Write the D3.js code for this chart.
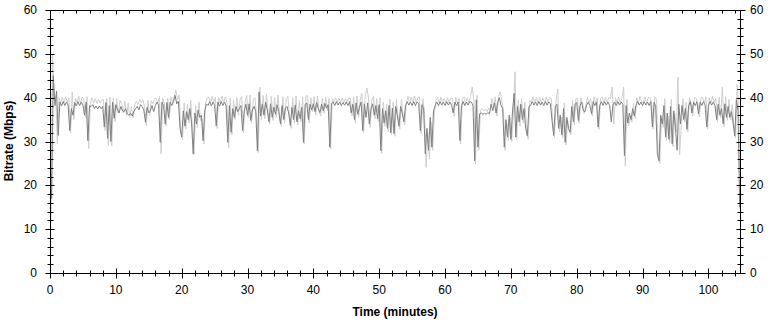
<!DOCTYPE html>
<html>
<head>
<meta charset="utf-8">
<script src="https://cdn.jsdelivr.net/npm/d3@7"></script>
<style>
  body { margin: 0; background: #fff; }
  text { font-family: Arial, "Liberation Sans", sans-serif; }
</style>
</head>
<body>
<div id="container"></div>
<script>
// sampled every 0.25 min, starting at 0 (dark trace)
const bitrateAvg = [
  29, 17, 45, 38.2,  41.5, 31.4, 39.0, 38.1,  39.1, 38.2, 39.0, 38.3,  32.5, 37.5, 36.0, 38.9,
  38.1, 39.1, 38.2, 39.0,  38.3, 36.0, 39.0, 30.2,  38.1, 38.0, 38.4, 37.5,  38.1, 37.4, 38.1, 37.5,
  38.0, 33.3, 38.9, 30.7,  38.2, 30.0, 39.0, 35.3,
  38.4, 37.2, 36.5, 38.0,  37.0, 36.8, 37.5, 36.3,  36.0, 36.4, 35.8, 36.9,  37.5, 38.0, 37.2, 38.4,
  38.0, 37.2, 34.4, 37.8,  36.5, 37.0, 38.2, 36.8,  38.2, 39.0, 38.3, 29.8,  39.0, 38.2, 34.0, 38.9,
  35.5, 39.0, 38.2, 39.1,  40.5, 38.6, 39.2, 33.0,
  31.0, 37.0, 33.5, 36.8,  35.0, 37.5, 34.2, 27.2,  36.5, 34.0, 37.2, 35.5,  36.0, 30.2, 37.0, 38.6,
  38.2, 39.1, 38.1, 39.0,  38.3, 33.6, 39.0, 38.1,  39.1, 38.2, 39.0, 38.1,  29.8, 38.2, 32.1, 37.5,
  35.5, 38.0, 36.8, 37.5,  38.2, 32.5, 37.0, 38.5,
  36.0, 38.6, 34.8, 37.2,  38.0, 36.8, 27.9, 41.3,  35.8, 38.5, 36.0, 39.0,  37.2, 34.5, 38.6, 35.5,
  37.8, 36.2, 38.4, 36.8,  34.0, 38.2, 35.0, 37.6,  38.0, 36.5, 33.7, 37.8,  35.0, 38.3, 34.5, 37.0,
  35.2, 37.8, 29.8, 38.4,  38.8, 35.0, 38.5, 37.2,
  38.6, 36.8, 38.9, 37.5,  36.6, 38.5, 37.0, 38.7,  37.6, 38.4, 28.7, 38.6,  39.0, 38.2, 39.1, 38.3,
  39.0, 38.2, 38.9, 38.3,  39.0, 38.2, 39.1, 36.5,  38.5, 35.0, 38.8, 36.2,  37.8, 39.0, 32.5, 38.6,
  35.5, 38.8, 34.0, 37.4,  38.6, 36.0, 38.2, 35.2,
  38.4, 27.9, 37.5, 34.2,  37.0, 33.0, 38.2, 32.0,  37.6, 31.8, 38.0, 36.0,  33.5, 38.0, 36.5, 34.5,
  38.2, 39.1, 38.3, 39.0,  38.2, 39.1, 38.2, 39.0,  38.7, 32.5, 38.4, 37.5,  27.2, 33.0, 28.0, 35.5,
  28.7, 37.0, 38.2, 39.0,  38.2, 39.1, 38.3, 39.0,
  38.2, 39.1, 38.3, 39.0,  38.2, 36.5, 39.0, 38.2,  39.0, 30.2, 38.2, 39.1,  38.2, 39.0, 38.3, 39.1,
  39.0, 38.2, 25.6, 39.5,  28.7, 36.3, 36.5, 36.2,  36.4, 36.2, 36.6, 36.3,  38.5, 37.0, 38.8, 36.5,
  38.9, 40.0, 38.2, 37.5,  28.7, 35.0, 31.0, 36.0,
  30.5, 37.0, 41.0, 31.0,  38.0, 34.5, 38.5, 35.0,  37.5, 33.0, 31.3, 38.0,  38.2, 39.1, 38.3, 39.0,
  38.2, 39.1, 38.3, 39.0,  38.2, 39.1, 38.3, 39.0,  38.6, 34.8, 31.4, 38.0,  38.5, 33.0, 36.0, 31.5,
  37.5, 29.8, 35.5, 33.0,  32.1, 38.0, 34.5, 38.5,
  38.9, 34.8, 38.2, 39.0,  37.0, 36.8, 38.3, 39.0,  38.2, 36.3, 39.1, 38.2,  39.0, 33.3, 38.2, 39.1,
  38.2, 39.1, 38.3, 39.0,  38.2, 34.5, 38.3, 39.0,  38.2, 39.1, 38.3, 39.0,  38.5, 26.8, 38.2, 34.2,
  36.5, 35.0, 37.5, 35.8,  38.2, 39.1, 38.3, 39.0,
  38.2, 39.1, 38.3, 39.0,  38.2, 39.1, 33.3, 39.0,  38.0, 27.2, 25.6, 36.0,  34.0, 38.2, 31.0, 36.5,
  30.5, 38.0, 29.5, 37.0,  33.0, 28.0, 38.5, 34.0,  38.2, 35.0, 37.5, 32.8,  38.2, 39.1, 36.5, 39.0,
  38.2, 39.1, 36.3, 39.0,  38.2, 39.1, 38.3, 33.3,
  38.2, 39.1, 38.3, 39.0,  38.2, 35.0, 38.5, 36.0,  37.5, 34.0, 38.6, 35.5,  38.0, 35.5, 36.8, 34.2,
  31.3, 39.5, 37.0, 15.0
]

// sampled every 0.25 min, starting at 0.125 (light trace, finer peaks)
const bitratePeak = [
  10, 49.7, 39.8, 40.2,  29.5, 40.0, 38.8, 40.1,  38.8, 40.2, 38.9, 40.0,  32.0, 41.3, 35.0, 39.9,
  38.9, 40.3, 38.8, 40.1,  39.8, 35.5, 40.2, 28.4,  38.7, 40.0, 38.8, 39.8,  38.7, 39.6, 38.8, 39.5,
  39.5, 32.5, 39.8, 29.0,  40.1, 29.0, 39.9, 34.5,
  39.8, 36.5, 39.4, 38.6,  36.5, 39.2, 35.8, 38.8,  35.5, 38.0, 35.4, 38.5,  39.2, 38.4, 39.6, 38.8,
  39.5, 37.8, 33.5, 39.4,  36.0, 39.3, 38.6, 39.8,  39.9, 38.8, 40.3, 27.2,  39.8, 38.8, 33.5, 39.9,
  35.0, 40.2, 38.8, 40.3,  41.7, 39.5, 40.6, 32.0,
  30.5, 38.8, 32.8, 38.5,  34.2, 39.4, 33.5, 27.0,  38.2, 33.2, 39.0, 34.8,  35.2, 29.5, 38.8, 39.9,
  40.2, 38.8, 40.3, 38.9,  40.1, 33.0, 40.0, 38.8,  40.4, 38.8, 40.2, 38.9,  28.5, 39.8, 31.5, 39.4,
  35.0, 40.0, 36.0, 39.6,  40.3, 32.0, 39.0, 40.5,
  35.5, 40.6, 34.2, 39.5,  40.0, 35.5, 27.5, 42.4,  35.0, 40.5, 35.2, 40.8,  36.5, 34.0, 40.4, 34.8,
  40.0, 35.5, 40.6, 36.0,  33.5, 40.2, 34.2, 39.8,  40.3, 35.8, 33.0, 40.0,  34.2, 40.4, 33.8, 39.3,
  34.5, 40.1, 29.5, 40.3,  40.5, 34.2, 40.0, 36.8,
  40.2, 36.0, 40.4, 36.8,  35.8, 40.0, 36.4, 40.1,  37.0, 39.8, 28.3, 39.8,  38.9, 40.0, 38.8, 39.9,
  38.9, 40.0, 38.8, 39.8,  38.9, 39.9, 39.8, 35.8,  40.2, 34.2, 40.4, 35.5,  39.5, 41.0, 32.0, 40.2,
  42.2, 40.0, 33.2, 39.5,  40.3, 35.2, 39.8, 34.5,
  40.0, 27.3, 39.0, 33.5,  38.5, 32.2, 39.6, 31.5,  39.0, 31.2, 39.5, 35.2,  32.8, 39.6, 35.8, 33.8,
  38.9, 40.3, 38.8, 40.1,  38.9, 40.4, 38.8, 40.0,  40.2, 31.8, 39.8, 36.8,  24.1, 32.0, 26.0, 34.5,
  28.0, 36.2, 39.6, 40.0,  38.8, 40.1, 38.9, 39.9,
  38.8, 40.0, 38.9, 39.9,  39.8, 35.8, 40.1, 38.8,  39.9, 29.5, 39.7, 40.2,  38.8, 40.0, 38.9, 40.3,
  42.4, 39.6, 25.0, 40.5,  28.0, 37.2, 37.5, 37.0,  37.3, 36.8, 37.6, 37.2,  39.9, 38.0, 40.2, 35.8,
  40.3, 41.3, 39.5, 36.8,  28.0, 34.2, 30.2, 35.5,
  30.0, 36.5, 45.9, 30.5,  39.5, 33.5, 39.8, 34.2,  39.0, 32.2, 30.5, 39.4,  38.9, 40.2, 38.8, 40.0,
  38.8, 40.1, 38.9, 39.9,  38.9, 40.2, 38.8, 40.0,  39.9, 34.0, 30.8, 39.5,  42.0, 32.2, 35.5, 30.8,
  38.8, 29.2, 34.8, 32.5,  31.5, 39.4, 33.8, 39.8,
  39.9, 34.2, 40.0, 38.8,  36.4, 38.0, 40.0, 38.8,  39.8, 35.8, 40.2, 38.8,  40.0, 32.8, 39.8, 40.2,
  38.8, 40.1, 38.9, 40.0,  39.8, 42.4, 34.0, 40.0,  38.8, 40.2, 38.9, 39.9,  42.4, 24.5, 39.6, 33.6,
  35.8, 34.4, 38.8, 35.2,  40.0, 38.8, 40.3, 38.9,
  38.9, 40.2, 38.8, 40.0,  40.1, 38.8, 32.8, 40.2,  39.5, 26.6, 25.0, 35.4,  33.2, 39.8, 30.2, 35.8,
  29.8, 39.6, 28.8, 36.4,  32.2, 44.7, 27.0, 33.4,  39.8, 34.4, 39.0, 32.2,  40.0, 38.8, 35.8, 40.1,
  39.9, 38.8, 35.6, 40.0,  40.1, 38.8, 40.2, 32.8,
  40.0, 38.8, 40.3, 38.9,  39.8, 34.4, 40.1, 35.4,  42.4, 33.4, 40.2, 34.8,  39.6, 34.9, 38.4, 33.6,
  30.8, 43.0, 36.4, 12.0
]

const sampleStep = 0.25
const timeEnd = 104.8
const yTicks = [0, 10, 20, 30, 40, 50, 60]
const xTicks = [0, 10, 20, 30, 40, 50, 60, 70, 80, 90, 100]

const w = 772
const h = 322
const padLeft = 50, padRight = 740, padTop = 10, padBottom = 273

const svg = d3.select("#container")
  .append("svg")
  .attr("width", w)
  .attr("height", h)

const x = d3.scaleLinear().domain([0, timeEnd]).range([padLeft, padRight])
const y = d3.scaleLinear().domain([0, 60]).range([padBottom, padTop])

svg.append("clipPath")
  .attr("id", "plot-clip")
  .append("rect")
  .attr("x", padLeft)
  .attr("y", padTop)
  .attr("width", padRight - padLeft)
  .attr("height", padBottom - padTop)

const plot = svg.append("g").attr("clip-path", "url(#plot-clip)")

const peakLine = d3.line()
  .x((d, i) => x(i * sampleStep + sampleStep / 2))
  .y((d) => y(d))

const avgLine = d3.line()
  .x((d, i) => x(i * sampleStep))
  .y((d) => y(d))

plot.append("path")
  .attr("d", peakLine(bitratePeak))
  .attr("fill", "none")
  .attr("stroke", "#cfcfcf")
  .attr("stroke-width", 1)

plot.append("path")
  .attr("d", avgLine(bitrateAvg))
  .attr("fill", "none")
  .attr("stroke", "#808080")
  .attr("stroke-width", 1)

// frame
svg.append("rect")
  .attr("x", padLeft + 0.5)
  .attr("y", padTop + 0.5)
  .attr("width", padRight - padLeft)
  .attr("height", padBottom - padTop)
  .attr("fill", "none")
  .attr("stroke", "#000")

const xMinor = d3.range(0, timeEnd, 2)
const yMinor = d3.range(0, 61, 2)

const tick = (x1, y1, x2, y2) => {
  svg.append("line")
    .attr("x1", x1).attr("y1", y1)
    .attr("x2", x2).attr("y2", y2)
    .attr("stroke", "#000")
}

// y ticks, both sides
yMinor.forEach((v) => {
  const py = Math.round(y(v)) + 0.5
  const major = v % 10 === 0
  tick(padLeft + 0.5 - (major ? 5 : 3), py, padLeft + 0.5 + (major ? 4 : 3), py)
  tick(padRight + 0.5 - (major ? 4 : 3), py, padRight + 0.5 + (major ? 5 : 3), py)
})

// x ticks, bottom crossing, top inward
xMinor.forEach((v) => {
  const px = Math.round(x(v)) + 0.5
  const major = v % 10 === 0
  tick(px, padBottom + 0.5 - (major ? 5 : 3), px, padBottom + 0.5 + (major ? 5 : 3))
  tick(px, padTop + 0.5, px, padTop + 0.5 + (major ? 4 : 3))
})

svg.selectAll(".ylab-left")
  .data(yTicks)
  .enter()
  .append("text")
  .attr("x", 37)
  .attr("y", (d) => y(d) + 4)
  .attr("text-anchor", "end")
  .attr("font-size", 12)
  .text((d) => d)

svg.selectAll(".ylab-right")
  .data(yTicks)
  .enter()
  .append("text")
  .attr("x", 750)
  .attr("y", (d) => y(d) + 4)
  .attr("font-size", 12)
  .text((d) => d)

svg.selectAll(".xlab")
  .data(xTicks)
  .enter()
  .append("text")
  .attr("x", (d) => x(d))
  .attr("y", 294)
  .attr("text-anchor", "middle")
  .attr("font-size", 12)
  .text((d) => d)

svg.append("text")
  .attr("x", 395)
  .attr("y", 316)
  .attr("text-anchor", "middle")
  .attr("font-size", 12)
  .attr("font-weight", "bold")
  .text("Time (minutes)")

svg.append("text")
  .attr("transform", "translate(13," + 141 + ") rotate(-90)")
  .attr("text-anchor", "middle")
  .attr("font-size", 12)
  .attr("font-weight", "bold")
  .text("Bitrate (Mbps)")
</script>
</body>
</html>
